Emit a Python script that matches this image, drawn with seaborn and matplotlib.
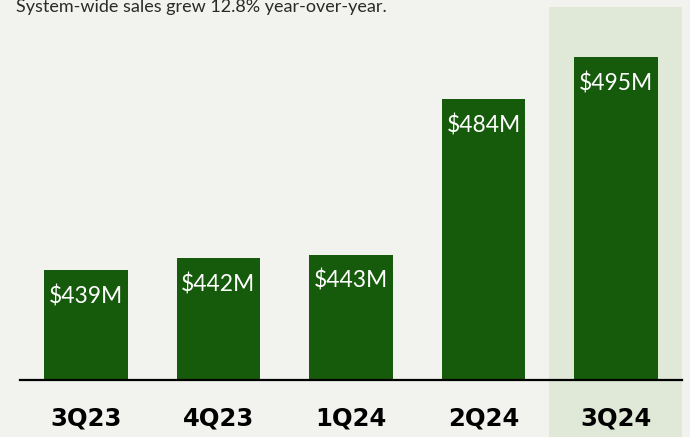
import matplotlib
matplotlib.use("Agg")
import matplotlib.pyplot as plt
import seaborn as sns
import pandas as pd
from matplotlib.patches import Rectangle

categories = ["3Q23", "4Q23", "1Q24", "2Q24", "3Q24"]
values = [439, 442, 443, 484, 495]
bar_labels = ["$439M", "$442M", "$443M", "$484M", "$495M"]
title = "System-wide sales grew 12.8% year-over-year."

BG = "#f2f2ee"
BAR = "#165b0b"
HL = "#e0e9d8"

sns.set_theme(style="white")
plt.rcParams["font.family"] = ["Lato", "DejaVu Sans"]

fig = plt.figure(figsize=(6.9, 4.37), dpi=100, facecolor=BG)
ax = fig.add_axes([19.5 / 690, 57 / 437, 663 / 690, 380 / 437])
ax.set_facecolor(BG)

df = pd.DataFrame({"quarter": categories, "sales": values})

# highlight column behind the latest quarter
ax.add_patch(Rectangle((3.49, 395), 1.01, 113.2, facecolor=HL, edgecolor="none",
                       clip_on=False, zorder=0.5))

sns.barplot(data=df, x="quarter", y="sales", color=BAR, saturation=1,
            width=0.63, ax=ax, zorder=2, edgecolor="none", linewidth=0)

ax.set_ylim(410, 510)
ax.set_xlim(-0.5, 4.5)

for i, (v, lab) in enumerate(zip(values, bar_labels)):
    ax.annotate(lab, xy=(i, v), xytext=(0, -19), textcoords="offset points",
                ha="center", va="center", color="white", fontsize=16.5,
                fontweight="normal", zorder=5)

for s in ["top", "right", "left"]:
    ax.spines[s].set_visible(False)
ax.spines["bottom"].set_color("black")
ax.spines["bottom"].set_linewidth(1.6)
ax.spines["bottom"].set_zorder(4)

ax.set_yticks([])
ax.set_xlabel("")
ax.set_ylabel("")
ax.tick_params(axis="x", length=0, pad=19)
for t in ax.get_xticklabels():
    t.set_fontfamily("DejaVu Sans")
    t.set_fontweight("bold")
    t.set_fontsize(17.5)
    t.set_color("black")

fig.text(16 / 690, 1 - 12 / 437, title, ha="left", va="baseline",
         fontsize=13, color="#2a2a2a")

fig.savefig("out.png", dpi=100, facecolor=BG)
